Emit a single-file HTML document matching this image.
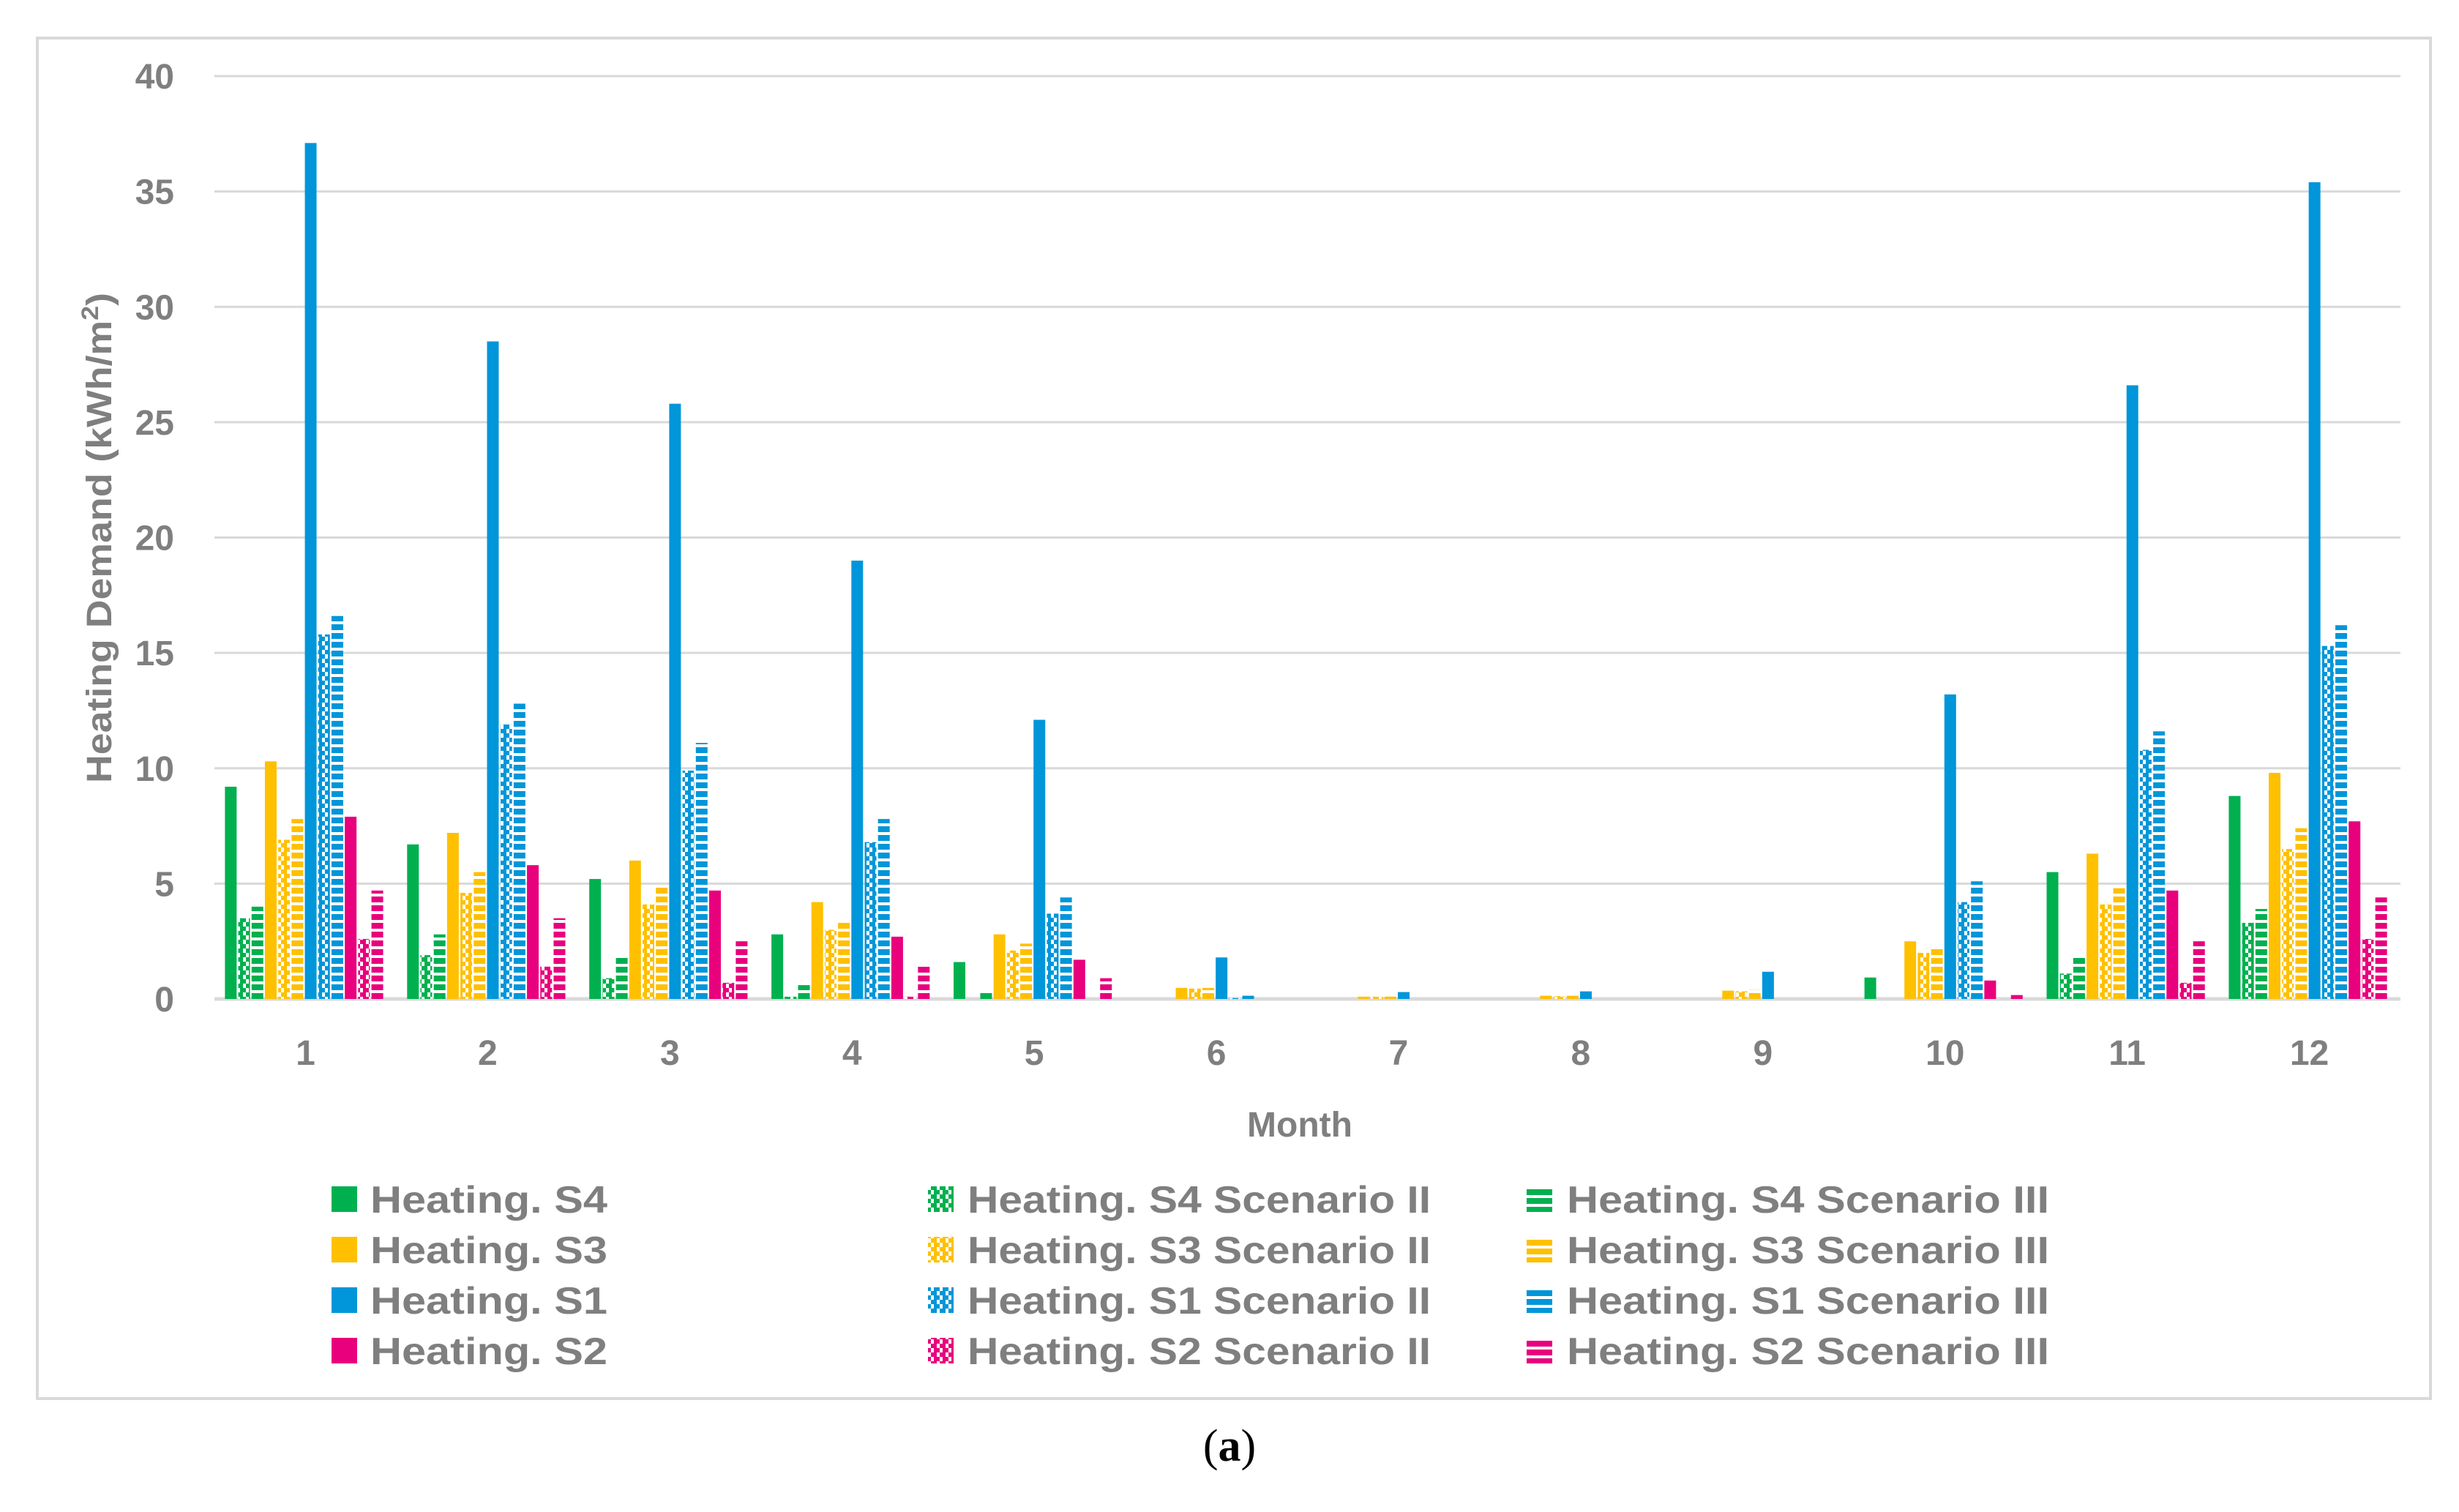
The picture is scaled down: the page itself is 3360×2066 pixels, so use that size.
<!DOCTYPE html>
<html><head><meta charset="utf-8"><style>
html,body{margin:0;padding:0;background:#fff;}
svg{display:block;}
text{font-family:"Liberation Sans","DejaVu Sans",sans-serif;}
</style></head><body>
<svg id="chart" width="3360" height="2066" viewBox="0 0 3360 2066" xmlns="http://www.w3.org/2000/svg">
<defs id="defs"></defs>
<rect x="51" y="52" width="3270" height="1859" fill="#fff" stroke="#d9d9d9" stroke-width="4"/>
<g id="grid"></g><g id="bars"></g><g id="axes"></g><g id="legend"></g>
<text transform="translate(152,735) rotate(-90)" text-anchor="middle" font-size="48" font-weight="bold" fill="#7f7f7f" textLength="670" lengthAdjust="spacingAndGlyphs">Heating Demand (kWh/m<tspan font-size="32" dy="-18">2</tspan><tspan dy="18">)</tspan></text>
<text x="1776" y="1553" text-anchor="middle" font-size="48" font-weight="bold" fill="#7f7f7f">Month</text>
<text x="1680" y="1996" text-anchor="middle" font-size="62" fill="#000" style="font-family:'Liberation Serif',serif">(<tspan font-weight="bold">a</tspan>)</text>
</svg>
<script>
const months = ["1","2","3","4","5","6","7","8","9","10","11","12"];
const yTicks = [0,5,10,15,20,25,30,35,40];
const seriesNames = ["Heating. S4","Heating. S4 Scenario II","Heating. S4 Scenario III","Heating. S3","Heating. S3 Scenario II","Heating. S3 Scenario III","Heating. S1","Heating. S1 Scenario II","Heating. S1 Scenario III","Heating. S2","Heating. S2 Scenario II","Heating. S2 Scenario III"];
const s4   = [9.2,6.7,5.2,2.8,1.6,0,0,0,0,0.93,5.5,8.8];
const s4II = [3.5,1.9,0.9,0.1,0,0,0,0,0,0,1.1,3.3];
const s4III= [4.0,2.8,1.8,0.6,0.3,0,0,0,0,0,1.8,3.9];
const s3   = [10.3,7.2,6.0,4.2,2.8,0.48,0.1,0.14,0.36,2.5,6.3,9.8];
const s3II = [6.9,4.6,4.1,3.0,2.1,0.45,0.1,0.12,0.33,2.0,4.1,6.5];
const s3III= [7.8,5.5,4.9,3.3,2.4,0.48,0.1,0.14,0.39,2.2,4.8,7.4];
const s1   = [37.1,28.5,25.8,19.0,12.1,1.8,0.3,0.33,1.18,13.2,26.6,35.4];
const s1II = [15.8,11.9,9.9,6.8,3.7,0.04,0,0,0,4.2,10.8,15.3];
const s1III= [16.6,12.8,11.1,7.8,4.4,0.14,0,0,0,5.1,11.6,16.2];
const s2   = [7.9,5.8,4.7,2.7,1.7,0,0,0,0,0.8,4.7,7.7];
const s2II = [2.6,1.4,0.7,0.1,0,0,0,0,0,0,0.7,2.6];
const s2III= [4.7,3.5,2.5,1.4,0.9,0,0,0,0,0.17,2.5,4.4];
const seriesValues = [s4,s4II,s4III,s3,s3II,s3III,s1,s1II,s1III,s2,s2II,s2III];

const NS="http://www.w3.org/2000/svg";
const colors=["#00b04f","#ffc000","#0096d9","#e8007d"];
const X0=293,X1=3280,Y0=1365,YMAX=40,Y40=104;
const yScale=v=>Y0-(v/YMAX)*(Y0-Y40);
const catW=(X1-X0)/months.length;
const stride=18.2,barW=16;
const xBar=(m,s)=>X0+(m+0.5)*catW+(s-6)*stride+(stride-barW)/2-2;
function mk(tag,attrs,parent){const e=document.createElementNS(NS,tag);for(const k in attrs)e.setAttribute(k,attrs[k]);parent.appendChild(e);return e;}
const defs=document.getElementById('defs');
colors.forEach((c,i)=>{
  const p=mk('pattern',{id:'chk'+i,width:12,height:12,patternUnits:'userSpaceOnUse'},defs);
  mk('rect',{x:0,y:0,width:12,height:12,fill:'#fff'},p);
  mk('rect',{x:0,y:0,width:6,height:6,fill:c},p);
  mk('rect',{x:6,y:6,width:6,height:6,fill:c},p);
  mk('rect',{x:4,y:0,width:4,height:12,fill:c},p);
  const q=mk('pattern',{id:'hz'+i,width:12,height:12,patternUnits:'userSpaceOnUse',y:Y0},defs);
  mk('rect',{x:0,y:0,width:12,height:12,fill:'#fff'},q);
  mk('rect',{x:0,y:4,width:12,height:8,fill:c},q);
});
const fillFor=s=>{const c=Math.floor(s/3),t=s%3;return t===0?colors[c]:(t===1?'url(#chk'+c+')':'url(#hz'+c+')');};
const grid=document.getElementById('grid');
yTicks.forEach(v=>{
  const l=mk('line',{x1:X0,x2:X1,y1:yScale(v),y2:yScale(v),stroke:'#d9d9d9','stroke-width':v===0?5:3},grid);
  
  
});
const axes=document.getElementById('axes');
yTicks.forEach(v=>{
  const t=mk('text',{x:238,y:yScale(v)+17,'text-anchor':'end','font-size':48,'font-weight':'bold',fill:'#7f7f7f'},axes);
  t.textContent=v;
  
  
});
months.forEach((m,i)=>{
  const t=mk('text',{x:X0+(i+0.5)*catW,y:1455,'text-anchor':'middle','font-size':48,'font-weight':'bold',fill:'#7f7f7f'},axes);
  t.textContent=m;
  
  
});
const bars=document.getElementById('bars');
seriesValues.forEach((arr,s)=>{
  arr.forEach((v,m)=>{
    if(v<=0)return;
    const y=yScale(v);
    const r=mk('rect',{x:xBar(m,s),y:y,width:barW,height:Y0-y,fill:fillFor(s)},bars);
    
    
  });
});
const legend=document.getElementById('legend');
const colX=[[453,506,324],[1268,1322,633],[2086,2141,659]];
const rowY=[1621,1690,1759,1828];
seriesNames.forEach((n,s)=>{
  const c=Math.floor(s/3),t=s%3;
  const g=mk('g',{},legend);
  
  
  mk('rect',{x:colX[t][0],y:rowY[c],width:35,height:35,fill:t===2?'url(#hzl'+c+')':fillFor(s)},g);
  const tx=mk('text',{x:colX[t][1],y:rowY[c]+36,'font-size':52,'font-weight':'bold',fill:'#7f7f7f',textLength:colX[t][2],lengthAdjust:'spacingAndGlyphs'},g);
  tx.textContent=n;
});
colors.forEach((col,i)=>{
  const q=mk('pattern',{id:'hzl'+i,width:12,height:12,patternUnits:'userSpaceOnUse',y:rowY[i]},defs);
  mk('rect',{x:0,y:0,width:12,height:12,fill:'#fff'},q);
  mk('rect',{x:0,y:4,width:12,height:8,fill:col},q);
});
</script>
</body></html>
